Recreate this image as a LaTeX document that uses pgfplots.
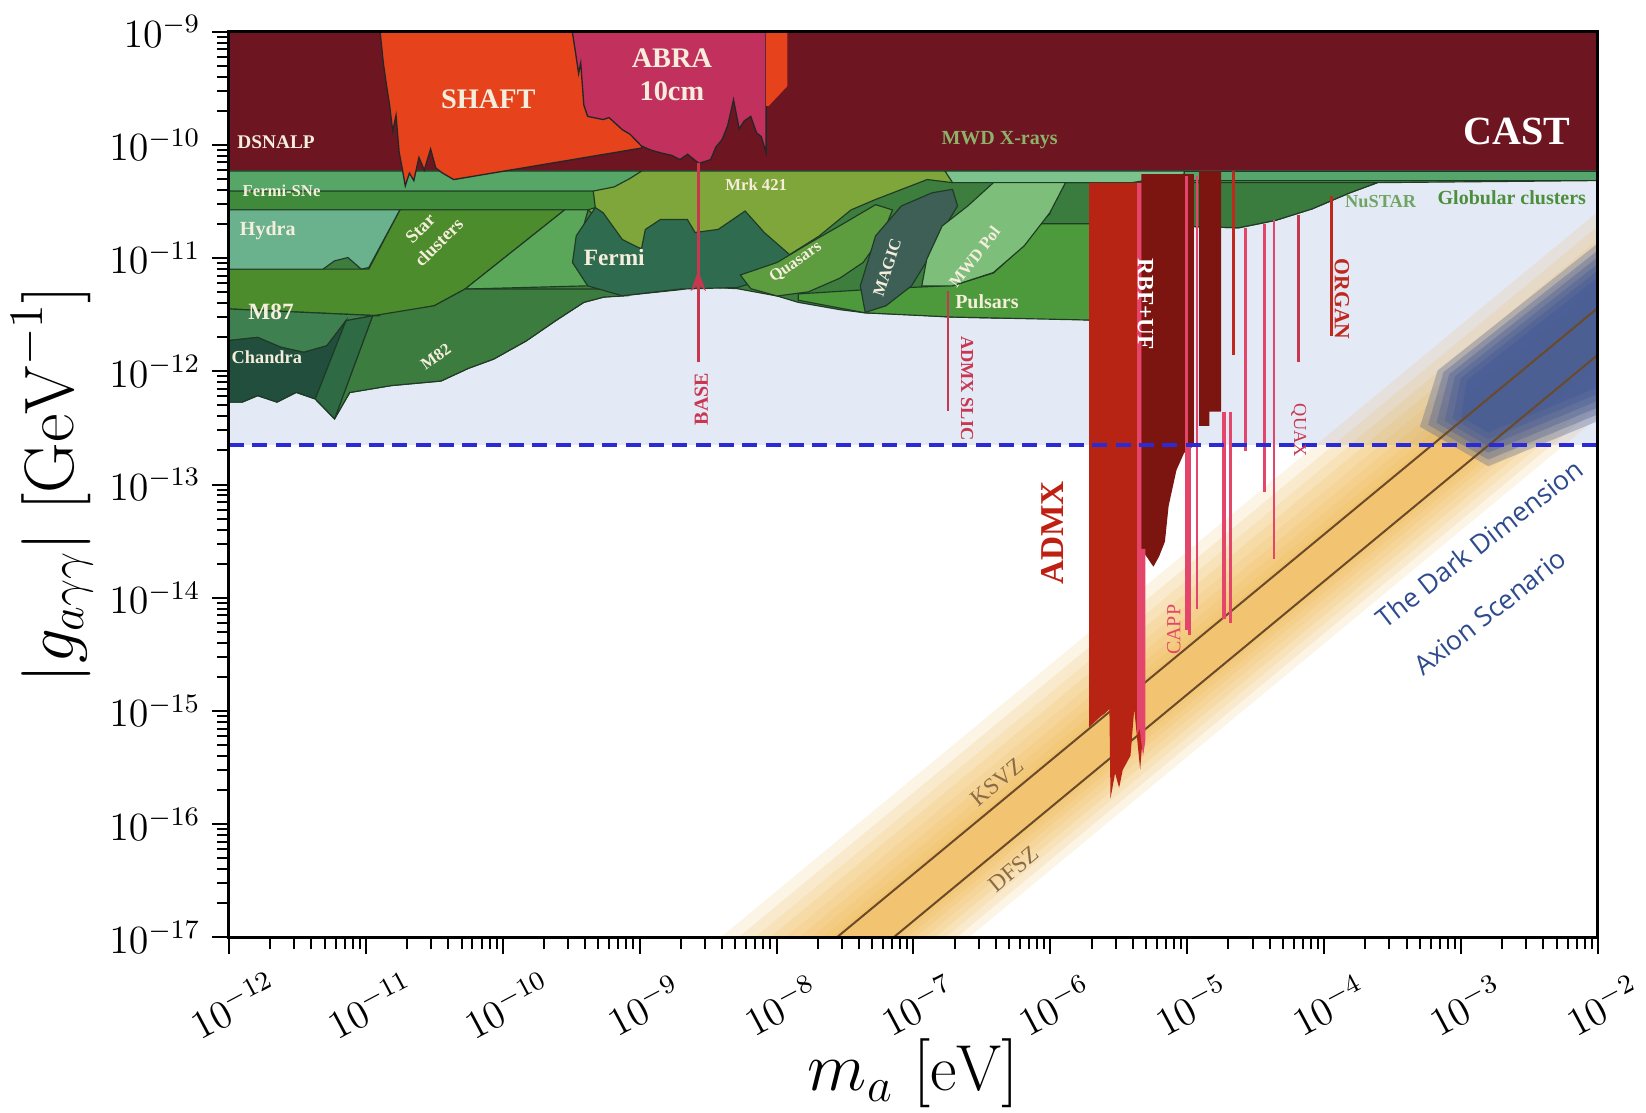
\documentclass[border=0pt]{standalone}
\usepackage{fontspec}
\usepackage{pgfplots}
\pgfplotsset{compat=1.18}
\usetikzlibrary{arrows.meta}
\newfontfamily\lab{Liberation Serif}
\newfontfamily\lsans{Open Sans}
\definecolor{bgblue}{HTML}{E4E9F6}
\definecolor{cast}{HTML}{6E1522}
\definecolor{shaft}{HTML}{E6421C}
\definecolor{abra}{HTML}{C2305E}
\definecolor{gbase}{HTML}{3D7E3F}
\definecolor{gfsne}{HTML}{55A667}
\definecolor{gband}{HTML}{3F8B3B}
\definecolor{gstar}{HTML}{4D8C2C}
\definecolor{glight}{HTML}{5AA75A}
\definecolor{ghydra}{HTML}{6AB28E}
\definecolor{gmeightytwo}{HTML}{3C7C3F}
\definecolor{gmeightyseven}{HTML}{3F8051}
\definecolor{gchandra}{HTML}{224F3D}
\definecolor{gwedge}{HTML}{2E6B45}
\definecolor{gfermi}{HTML}{2F6B4F}
\definecolor{gmrk}{HTML}{7FA63B}
\definecolor{gquasar}{HTML}{5E9C40}
\definecolor{gpulsar}{HTML}{4C9A3B}
\definecolor{gmagic}{HTML}{3D5F56}
\definecolor{gmwd}{HTML}{7DBE7B}
\definecolor{gdark}{HTML}{3A7C3D}
\definecolor{glband}{HTML}{7CC28D}
\definecolor{ggc}{HTML}{55A56D}
\definecolor{admx}{HTML}{B82414}
\definecolor{rbf}{HTML}{7C1410}
\definecolor{capp}{HTML}{E4456A}
\definecolor{organ}{HTML}{C0281C}
\definecolor{baseclr}{HTML}{C8374F}
\definecolor{bandc}{HTML}{EDB040}
\definecolor{blob}{HTML}{3A5499}
\definecolor{lineb}{HTML}{6B4A2A}
\definecolor{dashc}{HTML}{2A2AD6}
\definecolor{cream}{HTML}{F6EEDC}
\definecolor{ddtext}{HTML}{2E4B8E}
\definecolor{ksvztext}{HTML}{8B6B45}
\definecolor{gctext}{HTML}{4B8F3C}
\definecolor{mwdx}{HTML}{8DB36A}
\definecolor{outl}{HTML}{1F3B24}
\pgfplotsset{
  reg/.style={fill=#1, draw=outl, line width=0.35pt, forget plot},
  bar/.style={fill=#1, draw=none, forget plot},
  band/.style={fill=bandc, fill opacity=0.14, draw=none, forget plot},
  blb/.style={fill=blob, fill opacity=0.3, draw=none, forget plot},
  vline/.style={draw=#1, line width=0.8pt, forget plot},
}
\tikzset{lb/.style={inner sep=0pt, font=\lab}}
\begin{document}
\begin{tikzpicture}
\begin{axis}[
  width=410.7pt, height=271.8pt, scale only axis,
  xmode=log, ymode=log,
  xmin=1e-12, xmax=1e-2, ymin=1e-17, ymax=1e-9,
  axis on top,
  axis line style={line width=0.9pt},
  tick align=outside, tick pos=left,
  major tick length=5pt, minor tick length=3.6pt,
  every tick/.style={black, line width=0.6pt},
  tick label style={font=\fontsize{11.5}{13}\selectfont},
  xticklabel style={anchor=center, xshift=1.4pt, yshift=-15.3pt, rotate=28},
  xlabel={$m_a\ [\mathrm{eV}]$},
  ylabel={$|g_{a\gamma\gamma}|\ [\mathrm{GeV}^{-1}]$},
  xlabel style={font=\fontsize{19.5}{22}\selectfont, at={(axis description cs:0.5,-0.150)}, anchor=center},
  ylabel style={font=\fontsize{21}{24}\selectfont, at={(axis description cs:-0.129,0.5)}, anchor=center},
]
\coordinate (bbll) at (rel axis cs:-0.1673,-0.1932);
\coordinate (bbur) at (rel axis cs:1.0351,1.0348);
% background
\addplot[bar=bgblue] coordinates {(1e-12,2.23e-13) (1e-2,2.23e-13) (1e-2,1e-9) (1e-12,1e-9)} --cycle;
% QCD axion band
\addplot[band] coordinates {(3.89e-9,1e-17) (1e-2,2.57e-11) (1e-2,3.94e-13) (2.54e-7,1e-17)} --cycle;
\addplot[band] coordinates {(5.25e-9,1e-17) (1e-2,1.91e-11) (1e-2,4.85e-13) (2.06e-7,1e-17)} --cycle;
\addplot[band] coordinates {(6.92e-9,1e-17) (1e-2,1.45e-11) (1e-2,5.83e-13) (1.71e-7,1e-17)} --cycle;
\addplot[band] coordinates {(8.91e-9,1e-17) (1e-2,1.12e-11) (1e-2,7.02e-13) (1.43e-7,1e-17)} --cycle;
\addplot[band] coordinates {(1.15e-8,1e-17) (1e-2,8.71e-12) (1e-2,8.24e-13) (1.21e-7,1e-17)} --cycle;
\addplot[band] coordinates {(1.45e-8,1e-17) (1e-2,6.92e-12) (1e-2,9.68e-13) (1.03e-7,1e-17)} --cycle;
\addplot[band] coordinates {(1.78e-8,1e-17) (1e-2,5.62e-12) (1e-2,1.11e-12) (8.99e-8,1e-17)} --cycle;
\addplot[band] coordinates {(2.14e-8,1e-17) (1e-2,4.68e-12) (1e-2,1.25e-12) (8.02e-8,1e-17)} --cycle;
\addplot[band] coordinates {(2.51e-8,1e-17) (1e-2,3.98e-12) (1e-2,1.40e-12) (7.14e-8,1e-17)} --cycle;
% dark dimension blob
\addplot[blb] coordinates {(6.76e-4,1.02e-12) (1e-2,1.35e-11) (1e-2,3.63e-13) (1.58e-3,1.45e-13) (5.01e-4,3.24e-13)} --cycle;
\addplot[blb] coordinates {(7.45e-4,9.82e-13) (1e-2,1.17e-11) (1e-2,4.17e-13) (1.58e-3,1.66e-13) (5.75e-4,3.37e-13)} --cycle;
\addplot[blb] coordinates {(8.20e-4,9.42e-13) (1e-2,1.02e-11) (1e-2,4.79e-13) (1.58e-3,1.91e-13) (6.61e-4,3.52e-13)} --cycle;
\addplot[blb] coordinates {(9.04e-4,9.04e-13) (1e-2,8.91e-12) (1e-2,5.50e-13) (1.58e-3,2.19e-13) (7.59e-4,3.66e-13)} --cycle;
\addplot[blb] coordinates {(9.95e-4,8.67e-13) (1e-2,7.76e-12) (1e-2,6.31e-13) (1.58e-3,2.51e-13) (8.71e-4,3.82e-13)} --cycle;
\addplot[blb] coordinates {(1.10e-3,8.32e-13) (1e-2,6.76e-12) (1e-2,7.24e-13) (1.58e-3,2.88e-13) (1.00e-3,3.98e-13)} --cycle;
% KSVZ and DFSZ
\addplot[draw=lineb, line width=0.6pt, forget plot] coordinates {(2.75e-8,1e-17) (1e-2,3.63e-12)};
\addplot[draw=lineb, line width=0.6pt, forget plot] coordinates {(7.14e-8,1e-17) (1e-2,1.40e-12)};
% CAST
\addplot[fill=cast, draw=black!70, line width=0.4pt, forget plot] coordinates {(1e-12,5.85e-11) (1e-2,5.85e-11) (1e-2,1e-9) (1e-12,1e-9)} --cycle;
% green envelope
\addplot[reg=gbase] coordinates {(1e-12,5.85e-11) (1e-12,5.34e-13) (1.25e-12,5.34e-13) (1.62e-12,6.08e-13) (2.25e-12,5.34e-13) (3.10e-12,6.49e-13) (4.25e-12,5.70e-13) (5.90e-12,3.80e-13) (7.62e-12,6.49e-13) (1.54e-11,7.48e-13) (3.54e-11,8.20e-13) (5.60e-11,1.06e-12) (8.57e-11,1.28e-12) (1.48e-10,1.85e-12) (2.47e-10,2.83e-12) (3.91e-10,4.06e-12) (5.47e-10,4.52e-12) (8.49e-10,4.72e-12) (1.97e-9,5.25e-12) (2.68e-9,5.60e-12) (5.18e-9,5.36e-12) (1.01e-8,4.62e-12) (1.44e-8,4.06e-12) (2.90e-8,3.50e-12) (4.44e-8,3.28e-12) (1e-7,3.15e-12) (1.93e-7,3.01e-12) (4.10e-7,2.95e-12) (9.93e-7,2.95e-12) (2.01e-6,2.83e-12) (2.01e-6,2.01e-11) (1.18e-5,1.89e-11) (2.38e-5,1.85e-11) (4.42e-5,2.15e-11) (8.20e-5,2.72e-11) (1.52e-4,3.74e-11) (2.45e-4,4.63e-11) (1e-2,4.83e-11) (1e-2,5.85e-11)} --cycle;
% right-hand green pieces
\addplot[reg=gdark] coordinates {(9.93e-7,4.63e-11) (2.45e-4,4.63e-11) (1.52e-4,3.74e-11) (8.20e-5,2.72e-11) (4.42e-5,2.15e-11) (2.38e-5,1.85e-11) (1.18e-5,1.89e-11) (2.01e-6,2.01e-11) (8.32e-7,2.01e-11) (9.93e-7,2.47e-11)} --cycle;
\addplot[reg=gmrk] coordinates {(4.20e-10,5.85e-11) (3.84e-7,5.85e-11) (1.93e-7,4.63e-11) (1.26e-7,4.93e-11) (5.29e-8,3.29e-11) (3.50e-8,2.66e-11) (2.04e-8,1.56e-11) (1.01e-8,9.14e-12) (4.97e-9,9.14e-12) (8.49e-10,1.26e-11) (4.20e-10,2.66e-11)} --cycle;
\addplot[reg=glband] coordinates {(1.70e-7,5.85e-11) (9.48e-6,5.85e-11) (9.48e-6,5.5e-11) (3.94e-6,4.63e-11) (1.93e-7,4.63e-11)} --cycle;
\addplot[reg=ggc] coordinates {(9.48e-6,5.85e-11) (1e-2,5.85e-11) (1e-2,4.83e-11) (9.48e-6,4.83e-11)} --cycle;
% left green pieces
\addplot[reg=gfsne] coordinates {(1e-12,5.85e-11) (1.03e-9,5.85e-11) (8.49e-10,5.04e-11) (6.52e-10,4.25e-11) (4.58e-10,3.90e-11) (1e-12,3.90e-11)} --cycle;
\addplot[reg=gband] coordinates {(1e-12,3.90e-11) (4.58e-10,3.90e-11) (4.74e-10,2.79e-11) (4.20e-10,2.66e-11) (1e-12,2.66e-11)} --cycle;
\addplot[reg=gstar] coordinates {(1e-12,7.98e-12) (1.05e-11,7.98e-12) (1.77e-11,2.66e-11) (2.83e-10,2.66e-11) (5.30e-11,5.32e-12) (3.16e-11,3.79e-12) (1.27e-11,3.09e-12) (1e-12,3.55e-12)} --cycle;
\addplot[reg=glight] coordinates {(2.83e-10,2.66e-11) (4.20e-10,2.66e-11) (3.44e-10,1.12e-11) (4.17e-10,5.68e-12) (5.30e-11,5.32e-12)} --cycle;
\addplot[reg=ghydra] coordinates {(1e-12,2.66e-11) (1.77e-11,2.66e-11) (1.05e-11,8.24e-12) (9.25e-12,7.98e-12) (7.39e-12,1.01e-11) (5.90e-12,9.44e-12) (4.86e-12,7.98e-12) (1e-12,7.98e-12)} --cycle;
\addplot[reg=gmeightytwo] coordinates {(1.12e-11,3.09e-12) (3.16e-11,3.79e-12) (5.30e-11,5.32e-12) (5.41e-10,5.32e-12) (7.96e-10,4.64e-12) (5.47e-10,4.52e-12) (3.91e-10,4.06e-12) (2.47e-10,2.83e-12) (1.48e-10,1.85e-12) (8.57e-11,1.28e-12) (5.60e-11,1.06e-12) (3.54e-11,8.20e-13) (1.54e-11,7.48e-13) (7.62e-12,6.49e-13) (5.90e-12,3.80e-13)} --cycle;
\addplot[reg=gmeightyseven] coordinates {(1e-12,3.55e-12) (1.27e-11,3.09e-12) (1.12e-11,3.09e-12) (7.16e-12,2.80e-12) (5.19e-12,1.68e-12) (3.52e-12,1.47e-12) (2.39e-12,1.63e-12) (1.62e-12,1.99e-12) (1e-12,1.87e-12)} --cycle;
\addplot[reg=gchandra] coordinates {(1e-12,1.87e-12) (1.62e-12,1.99e-12) (2.39e-12,1.63e-12) (3.52e-12,1.47e-12) (5.19e-12,1.68e-12) (7.16e-12,2.80e-12) (4.27e-12,5.70e-13) (3.10e-12,6.54e-13) (2.24e-12,5.34e-13) (1.62e-12,6.11e-13) (1.25e-12,5.34e-13) (1e-12,5.34e-13)} --cycle;
\addplot[reg=gwedge] coordinates {(7.16e-12,2.80e-12) (1.12e-11,3.09e-12) (5.90e-12,3.80e-13) (4.27e-12,5.70e-13)} --cycle;
\addplot[reg=gfermi] coordinates {(4.74e-10,2.79e-11) (3.44e-10,1.57e-11) (3.23e-10,9.12e-12) (4.17e-10,5.68e-12) (7.46e-10,4.64e-12) (1.97e-9,5.32e-12) (5.18e-9,5.49e-12) (9.86e-9,6.95e-12) (1.36e-8,9.75e-12) (8.13e-9,1.68e-11) (5.89e-9,2.60e-11) (3.75e-9,1.79e-11) (2.54e-9,1.68e-11) (2.23e-9,2.19e-11) (1.42e-9,2.19e-11) (1.10e-9,1.79e-11) (1.03e-9,1.20e-11) (7.46e-10,1.46e-11) (5.41e-10,2.51e-11)} --cycle;
\addplot[reg=gquasar] coordinates {(5.43e-9,7.08e-12) (1.01e-8,9.14e-12) (1.71e-8,1.34e-11) (2.90e-8,1.93e-11) (5.29e-8,2.96e-11) (7.03e-8,2.66e-11) (5.89e-8,1.56e-11) (4.29e-8,9.14e-12) (2.90e-8,6.64e-12) (1.71e-8,5.03e-12) (1.01e-8,4.62e-12) (6.48e-9,5.36e-12)} --cycle;
\addplot[reg=gpulsar] coordinates {(1.44e-8,4.24e-12) (4.44e-8,3.28e-12) (1.93e-7,3.01e-12) (2.01e-6,2.83e-12) (2.01e-6,2.01e-11) (8.32e-7,2.01e-11) (6.38e-7,1.29e-11) (3.84e-7,7.38e-12) (1.93e-7,5.71e-12) (5.89e-8,5.36e-12) (1.44e-8,4.82e-12)} --cycle;
\addplot[reg=gmagic] coordinates {(4.44e-8,3.31e-12) (4.09e-8,5.68e-12) (5.29e-8,1.57e-11) (8.15e-8,2.88e-11) (1.37e-7,3.77e-11) (1.93e-7,4.04e-11) (2.10e-7,2.88e-11) (1.77e-7,2.05e-11) (1.37e-7,1.12e-11) (9.68e-8,5.68e-12) (6.30e-8,3.79e-12)} --cycle;
\addplot[reg=gmwd] coordinates {(1.62e-7,1.92e-11) (2.49e-7,2.88e-11) (3.84e-7,4.63e-11) (1.29e-6,4.63e-11) (9.91e-7,2.51e-11) (6.44e-7,1.28e-11) (3.84e-7,7.45e-12) (1.93e-7,5.68e-12) (1.15e-7,5.68e-12) (1.25e-7,9.75e-12)} --cycle;
% SHAFT and ABRA
\addplot[fill=shaft, draw=black!85, line width=0.4pt, forget plot] coordinates {(1.27e-11,1e-9) (1.34e-11,5.3e-10) (1.41e-11,3.44e-10) (1.49e-11,2.24e-10) (1.57e-11,1.32e-10) (1.66e-11,1.82e-10) (1.75e-11,8.59e-11) (1.84e-11,6.24e-11) (1.94e-11,4.34e-11) (2.08e-11,5.61e-11) (2.24e-11,4.83e-11) (2.44e-11,7.73e-11) (2.67e-11,5.98e-11) (2.97e-11,9.16e-11) (3.24e-11,6.24e-11) (3.60e-11,5.66e-11) (4.38e-11,4.93e-11) (1.03e-9,9.35e-11) (1.03e-9,1e-9)} --cycle;
\addplot[fill=abra, draw=black!85, line width=0.4pt, forget plot] coordinates {(3.22e-10,1e-9) (3.40e-10,6.53e-10) (3.58e-10,4.26e-10) (3.71e-10,5.27e-10) (3.91e-10,2.24e-10) (4.17e-10,1.78e-10) (5.41e-10,1.67e-10) (5.97e-10,1.74e-10) (7.46e-10,1.36e-10) (8.49e-10,1.24e-10) (1.03e-9,9.77e-11) (1.20e-9,9.0e-11) (1.42e-9,8.49e-11) (1.72e-9,8.05e-11) (1.97e-9,7.40e-11) (2.24e-9,8.24e-11) (2.71e-9,6.84e-11) (3.30e-9,7.40e-11) (3.61e-9,9.57e-11) (4.00e-9,1.11e-10) (4.39e-9,1.47e-10) (4.85e-9,2.50e-10) (5.33e-9,1.38e-10) (5.82e-9,1.63e-10) (6.48e-9,1.78e-10) (7.15e-9,1.27e-10) (7.73e-9,1.18e-10) (8.39e-9,8.49e-11) (8.39e-9,1e-9)} --cycle;
\addplot[bar=shaft] coordinates {(8.39e-9,1e-9) (1.20e-8,1e-9) (1.20e-8,3.30e-10) (8.75e-9,2.20e-10) (8.39e-9,2.20e-10)} --cycle;
% haloscopes
\addplot[bar=admx] coordinates {(1.92e-6,4.6e-11) (4.70e-6,4.6e-11) (4.70e-6,5.39e-16) (4.53e-6,3.02e-16) (4.10e-6,1.04e-15) (3.85e-6,4.03e-16) (3.38e-6,3.02e-16) (3.18e-6,2.10e-16) (2.97e-6,2.82e-16) (2.75e-6,1.69e-16) (2.70e-6,1.04e-15) (2.50e-6,9.5e-16) (2.33e-6,8.95e-16) (1.92e-6,7.20e-16)} --cycle;
\addplot[bar=rbf] coordinates {(4.62e-6,5.5e-11) (1.12e-5,5.5e-11) (1.12e-5,2.20e-13) (9.48e-6,1.90e-13) (8.34e-6,1.34e-13) (7.31e-6,6.47e-14) (6.87e-6,3.13e-14) (6.23e-6,2.32e-14) (5.66e-6,1.88e-14) (4.62e-6,2.70e-14)} --cycle;
\addplot[bar=capp] coordinates {(4.30e-6,4.6e-11) (4.62e-6,4.6e-11) (4.62e-6,2.7e-14) (4.95e-6,2.7e-14) (4.95e-6,5.5e-16) (4.75e-6,4.0e-16) (4.50e-6,7.0e-16) (4.30e-6,6.2e-16)} --cycle;
\addplot[bar=rbf] coordinates {(1.22e-5,5.85e-11) (1.77e-5,5.85e-11) (1.77e-5,4.4e-13) (1.45e-5,4.4e-13) (1.45e-5,3.3e-13) (1.22e-5,3.3e-13)} --cycle;
\addplot[vline=capp] coordinates {(9.86e-6,5.3e-11) (9.86e-6,5.21e-15)};
\addplot[vline=capp] coordinates {(1.04e-5,2.2e-13) (1.04e-5,4.73e-15)};
\addplot[vline=capp] coordinates {(1.18e-5,5.3e-11) (1.18e-5,8.0e-15)};
\addplot[draw=capp, line width=1.3pt, forget plot] coordinates {(1.86e-5,4.4e-13) (1.86e-5,6.46e-15)};
\addplot[vline=capp] coordinates {(2.07e-5,4.4e-13) (2.07e-5,6.0e-15)};
\addplot[vline=organ] coordinates {(2.18e-5,5.85e-11) (2.18e-5,1.4e-12)};
\addplot[vline=capp] coordinates {(2.65e-5,1.85e-11) (2.65e-5,1.96e-13)};
\addplot[vline=capp] coordinates {(3.67e-5,2.0e-11) (3.67e-5,8.57e-14)};
\addplot[vline=capp] coordinates {(4.31e-5,2.15e-11) (4.31e-5,2.18e-14)};
\addplot[draw=baseclr, line width=1pt, forget plot] coordinates {(6.52e-5,2.4e-11) (6.52e-5,1.20e-12)};
\addplot[draw=organ, line width=1pt, forget plot] coordinates {(1.13e-4,3.51e-11) (1.13e-4,2.05e-12)};
% ADMX SLIC and BASE
\addplot[draw=baseclr, line width=0.8pt, forget plot] coordinates {(1.79e-7,5.14e-12) (1.79e-7,4.42e-13)};
\addplot[draw=baseclr, line width=0.9pt, forget plot] coordinates {(2.68e-9,1.20e-12) (2.68e-9,6.9e-11)};
\addplot[draw=baseclr, line width=0.9pt, -{Stealth[length=6pt,width=4.5pt]}, forget plot] coordinates {(2.68e-9,3e-12) (2.68e-9,7.7e-12)};
% dashed line
\addplot[draw=dashc, line width=1.1pt, dash pattern=on 4.5pt off 2.5pt, forget plot] coordinates {(1e-12,2.23e-13) (1e-2,2.23e-13)};
% labels
\node[lb, text=cream, font=\lab\bfseries\fontsize{5.8}{6}\selectfont] at (axis cs:2.21e-12,1.06e-10) {DSNALP};
\node[lb, text=cream, font=\lab\bfseries\fontsize{8.5}{9}\selectfont] at (axis cs:7.84e-11,2.50e-10) {SHAFT};
\node[lb, text=cream, font=\lab\bfseries\fontsize{8.5}{9}\selectfont] at (axis cs:1.72e-9,5.86e-10) {ABRA};
\node[lb, text=cream, font=\lab\bfseries\fontsize{8.5}{9}\selectfont] at (axis cs:1.72e-9,2.97e-10) {10cm};
\node[lb, text=mwdx, font=\lab\bfseries\fontsize{6}{7}\selectfont] at (axis cs:4.26e-7,1.11e-10) {MWD X-rays};
\node[lb, text=white, font=\lab\bfseries\fontsize{12}{13}\selectfont] at (axis cs:2.56e-3,1.32e-10) {CAST};
\node[lb, text=cream, font=\lab\bfseries\fontsize{5}{6}\selectfont] at (axis cs:2.42e-12,3.90e-11) {Fermi-SNe};
\node[lb, text=cream, font=\lab\bfseries\fontsize{5}{6}\selectfont] at (axis cs:7.1e-9,4.43e-11) {Mrk 421};
\node[lb, text=gctext!80!white, font=\lab\bfseries\fontsize{5.5}{6}\selectfont] at (axis cs:2.59e-4,3.16e-11) {NuSTAR};
\node[lb, text=gctext, font=\lab\bfseries\fontsize{6}{7}\selectfont] at (axis cs:2.35e-3,3.43e-11) {Globular clusters};
\node[lb, text=cream, font=\lab\bfseries\fontsize{6}{7}\selectfont] at (axis cs:1.92e-12,1.73e-11) {Hydra};
\node[lb, text=cream, font=\lab\bfseries\fontsize{5.5}{5.5}\selectfont, rotate=45] at (axis cs:2.5e-11,1.82e-11) {Star};
\node[lb, text=cream, font=\lab\bfseries\fontsize{5.5}{5.5}\selectfont, rotate=45] at (axis cs:3.4e-11,1.38e-11) {clusters};
\node[lb, text=cream, font=\lab\bfseries\fontsize{7}{8}\selectfont] at (axis cs:6.52e-10,1.02e-11) {Fermi};
\node[lb, text=cream, font=\lab\bfseries\fontsize{5}{6}\selectfont, rotate=35] at (axis cs:1.38e-8,9.14e-12) {Quasars};
\node[lb, text=cream, font=\lab\bfseries\fontsize{5}{6}\selectfont, rotate=72] at (axis cs:6.43e-8,8.22e-12) {MAGIC};
\node[lb, text=cream, font=\lab\bfseries\fontsize{5}{6}\selectfont, rotate=52] at (axis cs:2.79e-7,1.02e-11) {MWD Pol};
\node[lb, text=cream, font=\lab\bfseries\fontsize{6}{7}\selectfont] at (axis cs:3.44e-7,4.15e-12) {Pulsars};
\node[lb, text=cream, font=\lab\bfseries\fontsize{7}{8}\selectfont] at (axis cs:2.03e-12,3.35e-12) {M87};
\node[lb, text=cream, font=\lab\bfseries\fontsize{5.5}{6}\selectfont] at (axis cs:1.89e-12,1.34e-12) {Chandra};
\node[lb, text=cream, font=\lab\bfseries\fontsize{5}{6}\selectfont, rotate=35] at (axis cs:3.24e-11,1.34e-12) {M82};
\node[lb, text=baseclr, font=\lab\bfseries\fontsize{6}{7}\selectfont, rotate=90] at (axis cs:2.82e-9,5.70e-13) {BASE};
\node[lb, text=baseclr, font=\lab\bfseries\fontsize{5.5}{6}\selectfont, rotate=-90] at (axis cs:2.46e-7,7.06e-13) {ADMX SLIC};
\node[lb, text=white, font=\lab\bfseries\fontsize{7}{8}\selectfont, rotate=-90] at (axis cs:4.95e-6,3.89e-12) {RBF+UF};
\node[lb, text=organ, font=\lab\bfseries\fontsize{6.5}{7}\selectfont, rotate=-90] at (axis cs:1.35e-4,4.33e-12) {ORGAN};
\node[lb, text=baseclr, font=\lab\fontsize{5.5}{6}\selectfont, rotate=-90] at (axis cs:6.52e-5,3.01e-13) {QUAX};
\node[lb, text=admx!90!red, font=\lab\bfseries\fontsize{10}{11}\selectfont, rotate=90] at (axis cs:1.03e-6,3.72e-14) {ADMX};
\node[lb, text=capp, font=\lab\fontsize{6}{7}\selectfont, rotate=90] at (axis cs:7.98e-6,5.21e-15) {CAPP};
\node[lb, text=ksvztext, font=\lab\fontsize{7}{8}\selectfont, rotate=39.6] at (axis cs:4.10e-7,2.36e-16) {KSVZ};
\node[lb, text=ksvztext, font=\lab\fontsize{7}{8}\selectfont, rotate=39.6] at (axis cs:5.35e-7,4.02e-17) {DFSZ};
\node[lb, text=ddtext, font=\lsans\fontsize{8}{9}\selectfont, rotate=38] at (axis cs:1.36e-3,3.0e-14) {The Dark Dimension};
\node[lb, text=ddtext, font=\lsans\fontsize{8}{9}\selectfont, rotate=38] at (axis cs:1.62e-3,7.5e-15) {Axion Scenario};
\end{axis}
\pgfresetboundingbox
\path[use as bounding box] (bbll) rectangle (bbur);
\end{tikzpicture}
\end{document}
